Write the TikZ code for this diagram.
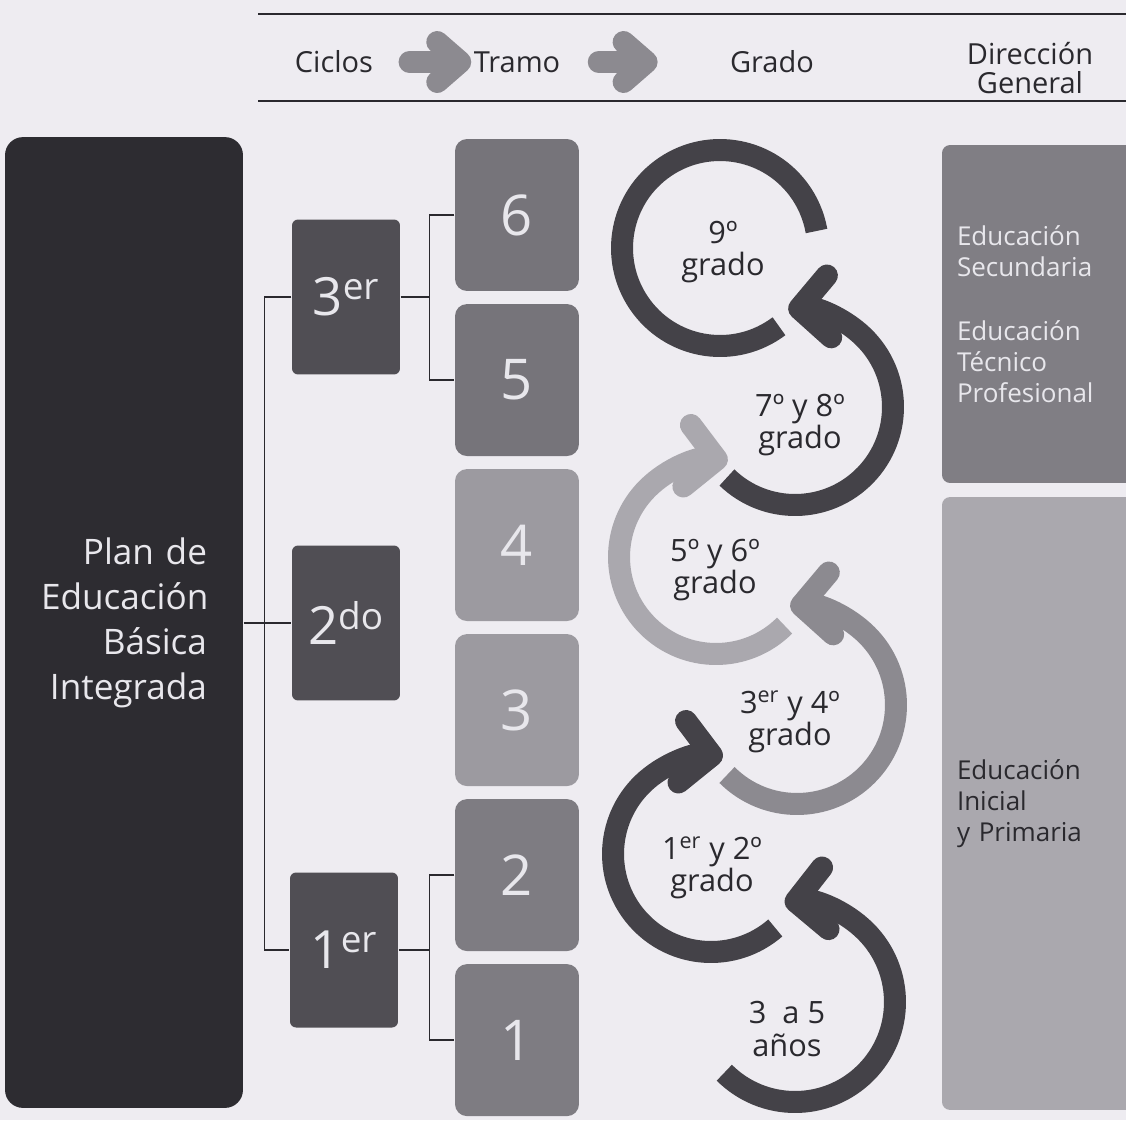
\documentclass[tikz,border=0pt]{standalone}
\usepackage{fontspec}
\setmainfont{Open Sans}
\usetikzlibrary{arrows.meta,positioning}
\definecolor{fondo}{RGB}{238,236,241}
\definecolor{plancol}{RGB}{45,44,49}
\definecolor{ciclocol}{RGB}{80,78,84}
\definecolor{tramoa}{RGB}{118,116,122}
\definecolor{tramob}{RGB}{156,154,160}
\definecolor{tramoc}{RGB}{126,124,130}
\definecolor{arcoosc}{RGB}{68,66,72}
\definecolor{arcomed}{RGB}{140,138,144}
\definecolor{arcoclaro}{RGB}{170,168,174}
\definecolor{dirosc}{RGB}{128,126,132}
\definecolor{dirclaro}{RGB}{170,168,174}
\definecolor{letraclara}{RGB}{232,231,236}
\definecolor{letraosc}{RGB}{42,41,46}
\definecolor{flechagris}{RGB}{140,138,144}

\begin{document}
\begin{tikzpicture}[x=0.02cm,y=-0.02cm,semithick,node distance=0.24cm]
  \tikzstyle{plan}=[rectangle,rounded corners=0.36cm,fill=plancol,text=letraclara,
    text width=3.32cm,inner xsep=0.72cm,minimum height=19.42cm,align=right,
    font=\fontsize{20}{25.6}\selectfont]
  \tikzstyle{ciclo}=[rectangle,rounded corners=0.12cm,fill=ciclocol,text=letraclara,
    minimum width=2.16cm,minimum height=3.1cm,inner sep=0pt,font=\fontsize{30}{30}\selectfont]
  \tikzstyle{tramo}=[rectangle,rounded corners=0.24cm,text=letraclara,
    minimum width=2.48cm,minimum height=3.04cm,inner sep=0pt,font=\fontsize{32}{32}\selectfont]
  \tikzstyle{dir}=[rectangle,rounded corners=0.16cm,text width=3.36cm,inner xsep=0.3cm,
    align=left,font=\fontsize{14.8}{17.6}\selectfont]
  \tikzstyle{cab}=[inner sep=0pt,text=letraosc,font=\fontsize{16.5}{16.5}\selectfont]
  \tikzstyle{gradotxt}=[align=center,text=letraosc,font=\fontsize{17.5}{18.5}\selectfont]
  \tikzstyle{rama}=[draw=letraosc,line width=1pt]
  \tikzstyle{arco}=[line width=0.44cm]
  \tikzstyle{punta}=[-{Straight Barb[length=0.6cm,width=1.24cm,round]}]
  \tikzstyle{flechacab}=[draw=flechagris,line width=0.44cm,line cap=round,
    -{Straight Barb[length=0.46cm,width=0.8cm,round]}]

  \useasboundingbox (0,0) rectangle (1126,1120);
  \fill[fondo] (0,0) rectangle (1126,1120);

  % cabecera
  \draw[rama] (258,14) -- (1126,14);
  \draw[rama] (258,101) -- (1126,101);
  \node[cab] (hciclos) at (334,62) {Ciclos};
  \node[cab] (htramo) at (517,62) {Tramo};
  \node[cab] (hgrado) at (772,62) {Grado};
  \node[cab,align=center] (hdir) at (1030,68) {Dirección\\General};
  \draw[flechacab,shorten <=0.72cm,shorten >=0.04cm] (hciclos) -- (htramo);
  \draw[flechacab,shorten <=0.76cm,shorten >=1.44cm] (htramo) -- (hgrado);

  % plan, ciclos y tramos
  \node[plan] (plan) at (124,622.5) {Plan de\\Educación\\Básica\\Integrada};

  \node[ciclo] (c3) at (346,297) {3\textsuperscript{er}};
  \node[ciclo] (c2) at (346,623) {2\textsuperscript{do}};
  \node[ciclo] (c1) at (344,950) {1\textsuperscript{er}};

  \node[tramo,fill=tramoa] (t6) at (517,215) {6};
  \node[tramo,fill=tramoa,below=of t6] (t5) {5};
  \node[tramo,fill=tramob,below=of t5] (t4) {4};
  \node[tramo,fill=tramob,below=of t4] (t3) {3};
  \node[tramo,fill=tramoc,below=of t3] (t2) {2};
  \node[tramo,fill=tramoc,below=of t2] (t1) {1};

  \coordinate[left=0.54cm of c3.west] (sp);
  \coordinate[left=0.5cm of t6.west] (b3);
  \coordinate[left=0.5cm of t2.west] (b1);
  \draw[rama] (plan.east |- c2.west) -- (c2.west);
  \draw[rama] (c3.west) -- (sp) |- (c1.west);
  \draw[rama] (c3.east) -- (c3.east -| b3);
  \draw[rama] (t6.west) -- (b3) |- (t5.west);
  \draw[rama] (c1.east) -- (c1.east -| b1);
  \draw[rama] (t2.west) -- (b1) |- (t1.west);

  % grados
  \coordinate (a9) at (720,248);
  \coordinate (a78) at (795,407);
  \coordinate (a56) at (716,557);
  \coordinate (a34) at (797,705);
  \coordinate (a12) at (711,854);
  \coordinate (a35) at (795,1002);

  \draw[arco,arcoosc] ([shift={(-53:1.96cm)}]a9) arc[start angle=-53,end angle=-350,radius=1.96cm];
  \draw[arco,punta,arcoclaro] ([shift={(-45:1.94cm)}]a56) arc[start angle=-45,end angle=-277,radius=1.94cm];
  \draw[arco,punta,arcoosc] ([shift={(226:1.96cm)}]a78) arc[start angle=226,end angle=454,radius=1.96cm];
  \draw[arco,punta,arcomed] ([shift={(225:1.98cm)}]a34) arc[start angle=225,end angle=454,radius=1.98cm];
  \draw[arco,punta,arcoosc] ([shift={(-49:1.96cm)}]a12) arc[start angle=-49,end angle=-277,radius=1.96cm];
  \draw[arco,punta,arcoosc] ([shift={(225:2cm)}]a35) arc[start angle=225,end angle=456,radius=2cm];

  \node[gradotxt] (g9) at (723,252) {9º\\grado};
  \node[gradotxt] (g78) at (800,425) {7º y 8º\\grado};
  \node[gradotxt] (g56) at (715,570) {5º y 6º\\grado};
  \node[gradotxt] (g34) at (790,722) {3\textsuperscript{er} y 4º\\grado};
  \node[gradotxt] (g12) at (712,868) {1\textsuperscript{er} y 2º\\grado};
  \node[gradotxt] (g35) at (787,1029) {3~ a 5\\años};

  % direccion general
  \node[dir,fill=dirosc,text=letraclara,minimum height=6.76cm] (sec) at (1041,314)
    {Educación\\Secundaria\\[0.66cm]Educación\\Técnico\\Profesional};
  \node[dir,fill=dirclaro,text=letraosc,minimum height=12.26cm] (pri) at (1041,803.5)
    {Educación\\Inicial\\y Primaria};
\end{tikzpicture}
\end{document}
